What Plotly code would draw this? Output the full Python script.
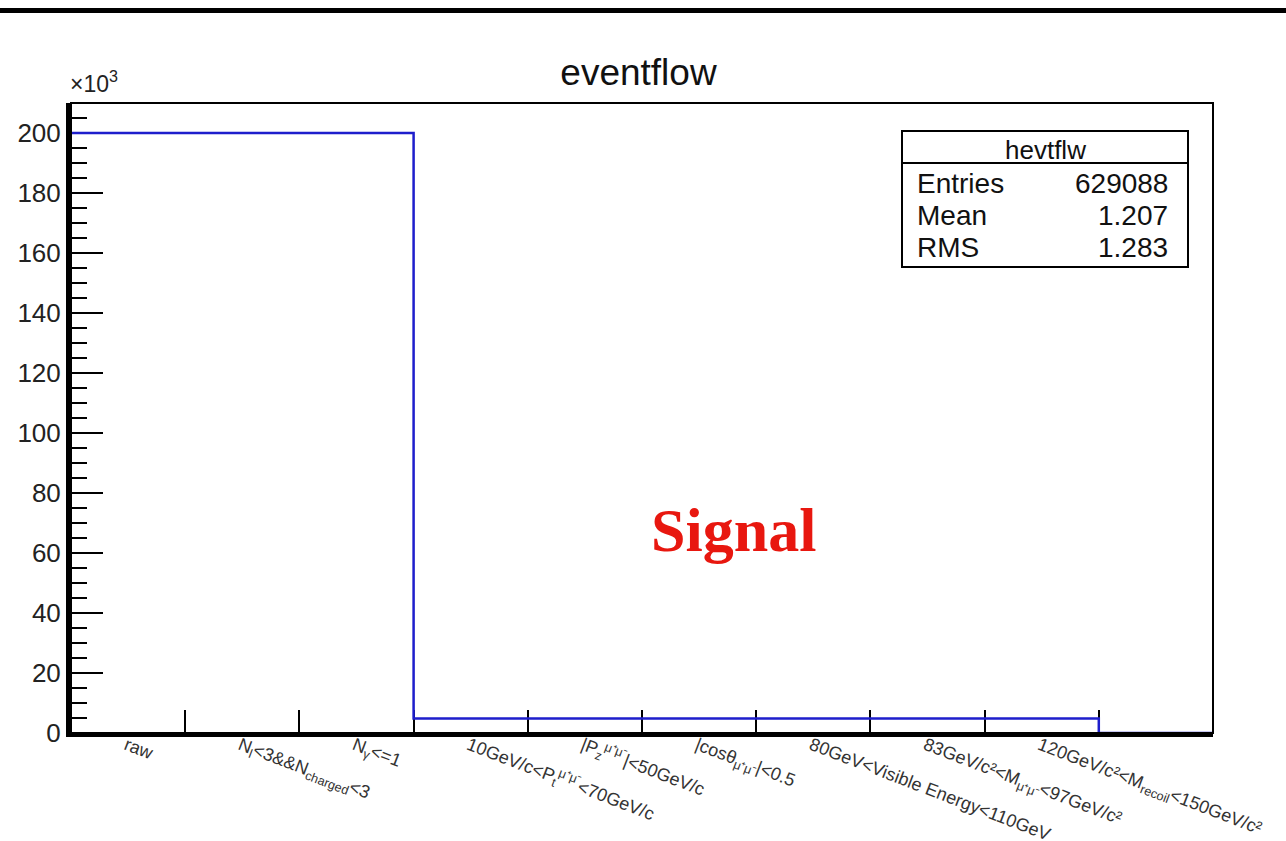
import numpy as np
import plotly.graph_objects as go

# ---- data ----
categories = [
    "raw",
    "N<sub>l</sub>&lt;3&amp;&amp;N<sub>charged</sub>&lt;3",
    "N<sub>γ</sub>&lt;=1",
    "10GeV/c&lt;P<sub>t</sub><sup>μ⁺μ⁻</sup>&lt;70GeV/c",
    "|P<sub>z</sub><sup>μ⁺μ⁻</sup>|&lt;50GeV/c",
    "|cosθ<sub>μ⁺μ⁻</sub>|&lt;0.5",
    "80GeV&lt;Visible Energy&lt;110GeV",
    "83GeV/c²&lt;M<sub>μ⁺μ⁻</sub>&lt;97GeV/c²",
    "120GeV/c²&lt;M<sub>recoil</sub>&lt;150GeV/c²",
]
counts = [200000, 200000, 200000, 4848, 4848, 4848, 4848, 4848, 4848, 0]
y_ticks = [0, 20000, 40000, 60000, 80000, 100000, 120000, 140000, 160000, 180000, 200000]
y_ticklabels = ["0", "20", "40", "60", "80", "100", "120", "140", "160", "180", "200"]
stats_name = "hevtflw"
stats_rows = [("Entries", "629088"), ("Mean", "1.207"), ("RMS", "1.283")]

edges = np.arange(len(counts) + 1)
centers = edges[:-1] + 0.5

FONT = "Liberation Sans, Arial, sans-serif"
BLUE = "#1e1ecc"

# body margin is removed by the post script, so the figure fills the window
W, H = 1286, 841
L, T, R_EDGE, B_EDGE = 71, 103, 1213, 733
PW, PH = R_EDGE - L, B_EDGE - T


def px(xs):  # screen x -> paper
    return (xs - L) / PW


def py(ys):  # screen y -> paper
    return (B_EDGE - ys) / PH


fig = go.Figure()
fig.add_trace(go.Scatter(
    x=edges, y=counts + [counts[-1]],
    mode="lines", line=dict(color=BLUE, width=2.5, shape="hv"),
    cliponaxis=False, showlegend=False, hoverinfo="skip",
))

fig.update_layout(
    width=W, height=H, autosize=False,
    margin=dict(l=L, r=W - R_EDGE, t=T, b=H - B_EDGE, autoexpand=False),
    paper_bgcolor="white", plot_bgcolor="white",
    title=dict(text="eventflow", x=px(638), xanchor="center", y=1 - 72 / H, yanchor="middle",
               font=dict(family=FONT, size=37, color="#111"), automargin=False),
    xaxis=dict(
        range=[0, len(counts)], showgrid=False, zeroline=False, automargin=False,
        showline=True, linecolor="black", linewidth=4,
        tickmode="array", tickvals=centers[:len(categories)], ticktext=categories,
        ticks="", tickangle=21, tickfont=dict(family=FONT, size=18, color="#333"),
        ticklabeloverflow="allow", ticklabelstandoff=-9, ticklabelshift=-2,
        minor=dict(tickmode="array", tickvals=edges[1:-1], ticks="inside",
                   ticklen=23, tickwidth=2, tickcolor="black"),
        layer="below traces",
    ),
    yaxis=dict(
        range=[0, 210000], showgrid=False, zeroline=False, automargin=False,
        showline=True, linecolor="black", linewidth=5,
        tickmode="array", tickvals=y_ticks, ticktext=y_ticklabels,
        ticks="inside", ticklen=32, tickwidth=2, tickcolor="black",
        tickfont=dict(family=FONT, size=26, color="#222"),
        minor=dict(tick0=0, dtick=5000, ticks="inside", ticklen=16,
                   tickwidth=2, tickcolor="black"),
        layer="below traces",
    ),
)

# frame (top/right)
fig.add_shape(type="rect", xref="paper", yref="paper", x0=0, y0=0, x1=1, y1=1,
              line=dict(color="black", width=2), layer="above")
# top black bar of the slide
fig.add_shape(type="line", xref="paper", yref="paper", x0=px(-20), x1=px(1310),
              y0=py(10.5), y1=py(10.5), line=dict(color="black", width=5))

# ×10^3 exponent
fig.add_annotation(xref="paper", yref="paper", x=px(68), y=py(99), xanchor="left", yanchor="bottom",
                   text="×10<sup>3</sup>", showarrow=False,
                   font=dict(family=FONT, size=23, color="#222"))

# stats box
bx0, bx1 = px(902), px(1188)
by1, by0 = py(131), py(267)
bsep = py(163)
fig.add_shape(type="rect", xref="paper", yref="paper", x0=bx0, x1=bx1, y0=by0, y1=by1,
              line=dict(color="black", width=2), fillcolor="white", layer="above")
fig.add_shape(type="line", xref="paper", yref="paper", x0=bx0, x1=bx1, y0=bsep, y1=bsep,
              line=dict(color="black", width=2))
fig.add_annotation(xref="paper", yref="paper", x=(bx0 + bx1) / 2, y=py(150),
                   text=stats_name, showarrow=False, xanchor="center", yanchor="middle",
                   font=dict(family=FONT, size=26, color="#111"))
row_y = [183, 215, 248]
for (lab, val), ry in zip(stats_rows, row_y):
    fig.add_annotation(xref="paper", yref="paper", x=px(915), y=py(ry), text=lab,
                       showarrow=False, xanchor="left", yanchor="middle",
                       font=dict(family=FONT, size=28, color="#111"))
    fig.add_annotation(xref="paper", yref="paper", x=px(1170), y=py(ry), text=val,
                       showarrow=False, xanchor="right", yanchor="middle",
                       font=dict(family=FONT, size=28, color="#111"))

# Signal label
fig.add_annotation(xref="paper", yref="paper", x=px(733), y=py(530),
                   text="<b>Signal</b>", showarrow=False, xanchor="center", yanchor="middle",
                   font=dict(family="Liberation Serif, Times New Roman, serif", size=62,
                             color="#e8170f"))

fig.write_html("out.html", config={"displayModeBar": False},
               post_script="document.body.style.margin='0';document.body.style.overflow='hidden';")
